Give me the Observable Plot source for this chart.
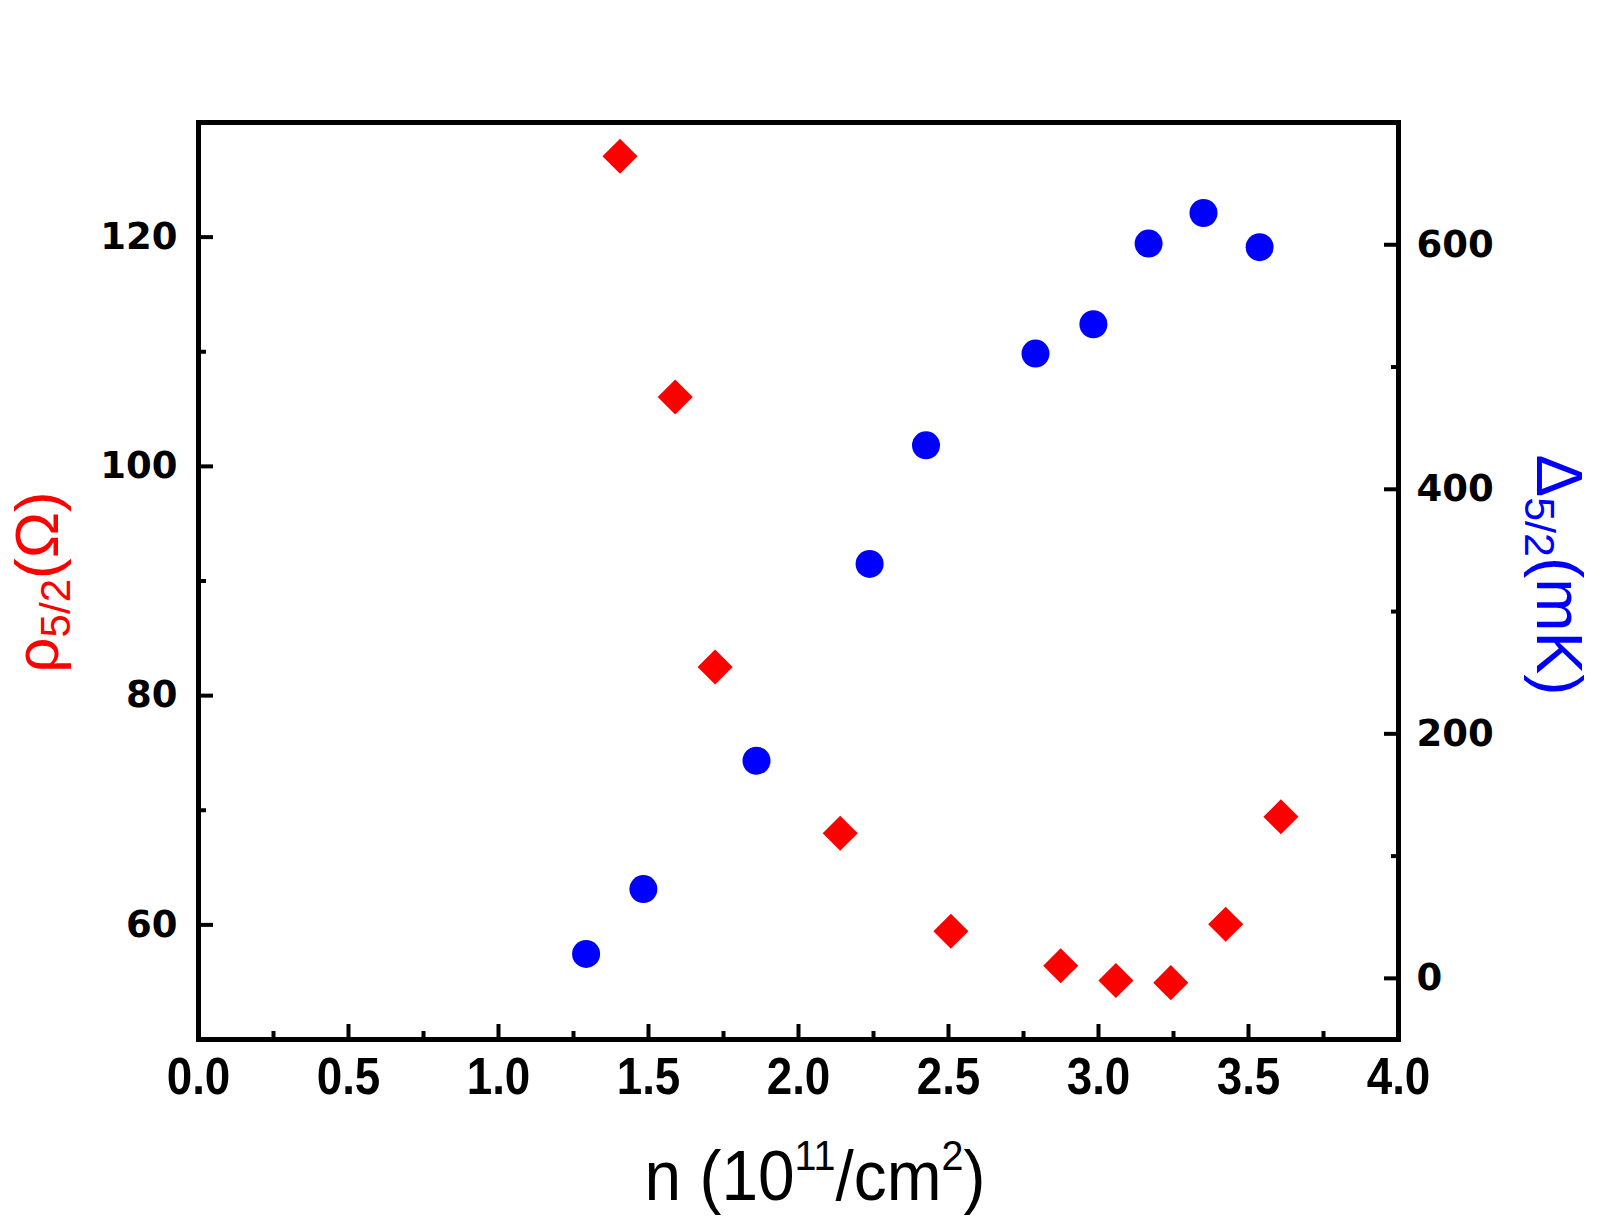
<!DOCTYPE html>
<html>
<head>
<meta charset="utf-8">
<script src="https://cdn.jsdelivr.net/npm/d3@7"></script>
<script src="https://cdn.jsdelivr.net/npm/@observablehq/plot@0.6"></script>
<style>
  body { margin: 0; background: #fff; }
</style>
</head>
<body>
<div id="chart"></div>
<script>
// Resistivity at ν = 5/2 versus carrier density
const rhoDensity = [1.405, 1.589, 1.722, 2.139, 2.508, 2.874, 3.058, 3.241, 3.424, 3.608]; // 10^11 cm^-2
const rhoValues  = [127.06, 106.05, 82.5, 68.0, 59.44, 56.44, 55.14, 54.96, 60.05, 69.43]; // Ω

// Energy gap at ν = 5/2 versus carrier density
const gapDensity = [1.292, 1.483, 1.860, 2.237, 2.425, 2.790, 2.983, 3.167, 3.350, 3.537]; // 10^11 cm^-2
const gapValues  = [20, 73, 178, 339, 436, 511, 535, 601, 626, 598]; // mK

// Axis ranges and tick values
const xDomain = [0, 4];
const xTicks = [0, 0.5, 1, 1.5, 2, 2.5, 3, 3.5, 4];
const xMinorTicks = [0.25, 0.75, 1.25, 1.75, 2.25, 2.75, 3.25, 3.75];
const rhoDomain = [50, 130];
const rhoTicks = [60, 80, 100, 120];
const rhoMinorTicks = [70, 90, 110];
const gapDomain = [-50, 700];
const gapTicks = [0, 200, 400, 600];
const gapMinorTicks = [100, 300, 500];

// The gap shares the plot's y scale: map mK onto the Ω range and back
const k = (rhoDomain[1] - rhoDomain[0]) / (gapDomain[1] - gapDomain[0]);
const toRho = v => rhoDomain[0] + (v - gapDomain[0]) * k;
const toGap = v => Math.round((v - rhoDomain[0]) / k + gapDomain[0]);

const sans = "'Liberation Sans', Arial, Helvetica, sans-serif";
const wide = "'DejaVu Sans', Verdana, sans-serif";

const tickStyle = {strokeWidth: 4, fill: "none", label: null};
const yText = {tickSize: 0, tickPadding: 21, fontSize: 37, fontWeight: "bold", fontFamily: wide, label: null};

const chart = Plot.plot({
  width: 1603,
  height: 1225,
  marginLeft: 198,
  marginRight: 205,
  marginTop: 122,
  marginBottom: 186,
  x: {domain: xDomain},
  y: {domain: rhoDomain},
  style: {fontFamily: sans, color: "black", background: "white", overflow: "visible"},
  marks: [
    // bottom axis
    Plot.axisX(xTicks, {...tickStyle, tickSize: -15}),
    Plot.axisX(xMinorTicks, {...tickStyle, tickSize: -8}),
    Plot.axisX(xTicks, {tickSize: 0, tickPadding: 18, fontSize: 52, fontWeight: "bold", fontFamily: sans, label: null,
      tickFormat: d => d.toFixed(1)}),
    // left axis (ρ)
    Plot.axisY(rhoTicks, {...tickStyle, anchor: "left", tickSize: -15}),
    Plot.axisY(rhoMinorTicks, {...tickStyle, anchor: "left", tickSize: -8}),
    Plot.axisY(rhoTicks, {...yText, anchor: "left"}),
    // right axis (Δ)
    Plot.axisY(gapTicks.map(toRho), {...tickStyle, anchor: "right", tickSize: -15}),
    Plot.axisY(gapMinorTicks.map(toRho), {...tickStyle, anchor: "right", tickSize: -8}),
    Plot.axisY(gapTicks.map(toRho), {...yText, anchor: "right", tickPadding: 18, tickFormat: toGap}),
    Plot.frame({strokeWidth: 5}),
    // data
    Plot.dot(rhoValues, {x: rhoDensity, y: rhoValues, symbol: "diamond2", r: 15.8, fill: "#ff0000", stroke: "none"}),
    Plot.dot(gapValues, {x: gapDensity, y: gapValues.map(toRho), symbol: "circle", r: 14, fill: "#0000ff", stroke: "none"})
  ]
});

document.getElementById("chart").append(chart);

const svg = d3.select(chart);

// Condense the bottom tick labels horizontally
function condense(sel, sx) {
  sel.each(function () {
    const t = this.getAttribute("transform");
    if (t) {
      this.setAttribute("transform", t + ` scale(${sx},1)`);
    } else {
      const x = +this.getAttribute("x") || 0;
      this.setAttribute("transform", `translate(${x},0) scale(${sx},1) translate(${-x},0)`);
    }
  });
}
condense(svg.selectAll('g[aria-label="x-axis tick label"] text'), 0.88);

// Axis titles with sub- and superscripts
const rhoTitle = svg.append("text")
  .attr("transform", "translate(58,582) rotate(-90)")
  .attr("text-anchor", "middle")
  .attr("fill", "#ff0000")
  .attr("font-family", sans)
  .attr("font-size", 62);
rhoTitle.append("tspan").text("ρ");
rhoTitle.append("tspan").attr("font-size", 42).attr("dy", 12).text("5/2");
rhoTitle.append("tspan").attr("dy", -12).text("(Ω)");

const gapTitle = svg.append("text")
  .attr("transform", "translate(1537,575) rotate(90)")
  .attr("text-anchor", "middle")
  .attr("fill", "#0000ff")
  .attr("font-family", sans)
  .attr("font-size", 64);
gapTitle.append("tspan").text("Δ");
gapTitle.append("tspan").attr("font-size", 43).attr("dy", 12).text("5/2");
gapTitle.append("tspan").attr("dy", -12).text("(mK)");

const xTitle = svg.append("text")
  .attr("transform", "translate(815,1200) scale(0.94,1)")
  .attr("text-anchor", "middle")
  .attr("fill", "black")
  .attr("font-family", sans)
  .attr("font-size", 70);
xTitle.append("tspan").text("n (10");
xTitle.append("tspan").attr("font-size", 42).attr("dy", -30).text("11");
xTitle.append("tspan").attr("dy", 30).text("/cm");
xTitle.append("tspan").attr("font-size", 42).attr("dy", -30).text("2");
xTitle.append("tspan").attr("dy", 30).text(")");
</script>
</body>
</html>
